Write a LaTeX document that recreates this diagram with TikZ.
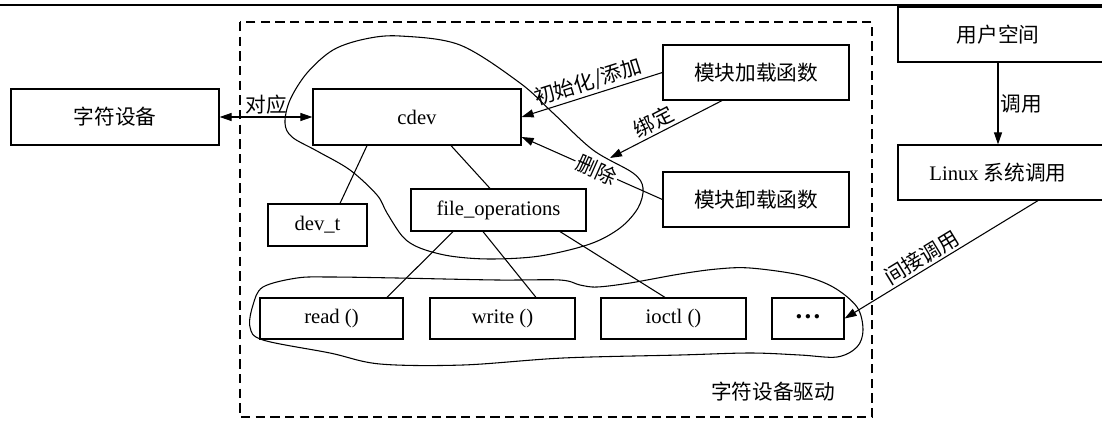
\documentclass[tikz,border=0pt]{standalone}
\usepackage{fontspec}
\setmainfont{Liberation Serif}
\newfontfamily\zh{Noto Sans CJK SC}
\usetikzlibrary{arrows.meta,calc}

\begin{document}
\begin{tikzpicture}[x=0.75pt,y=-0.75pt,>={Triangle[length=9pt,width=6pt]},
  every node/.style={font=\fontsize{15.5}{18}\selectfont},
  box/.style={draw,line width=0.9pt,rectangle,inner sep=0pt},
  link/.style={line width=0.8pt},
  lbl/.style={inner sep=1.5pt}]
\useasboundingbox (0,0) rectangle (1102,421);
\draw[line width=1.6pt] (0,5) -- (1102,5);
\draw[line width=1.3pt,dash pattern=on 7pt off 4pt] (240,22) rectangle (872,417);

% outer boxes
\node[box,minimum width=156pt,minimum height=42pt] (chardev) at (115,117) {\zh 字符设备};
\node[box,minimum width=159pt,minimum height=41.25pt] (user) at (1004,34.5) {\zh 用户空间\hspace*{9pt}};
\node[box,minimum width=159pt,minimum height=41.25pt] (syscall) at (1004,172.5) {Linux {\zh 系统调用}\hspace*{9pt}};

% driver parts
\node[box,minimum width=156pt,minimum height=42pt] (cdev) at (417,117) {cdev};
\node[box,minimum width=139.5pt,minimum height=41.25pt] (load) at (756,72.5) {\zh 模块加载函数};
\node[box,minimum width=139.5pt,minimum height=41.25pt] (unload) at (756,199.5) {\zh 模块卸载函数};
\node[box,minimum width=74.25pt,minimum height=31.5pt] (devt) at (317.5,225) {dev\_t};
\node[box,minimum width=131.25pt,minimum height=31.5pt] (fops) at (498.5,210) {file\_operations};
\node[box,minimum width=107.25pt,minimum height=30.75pt] (read) at (331.5,318.5) {read ()};
\node[box,minimum width=108.75pt,minimum height=30.75pt] (write) at (502.5,318.5) {write ()};
\node[box,minimum width=108.75pt,minimum height=30.75pt] (ioctl) at (673.5,318.5) {ioctl ()};
\node[box,minimum width=54pt,minimum height=30.75pt] (more) at (808,318.5) {\raisebox{3pt}{\fontsize{20}{20}\selectfont\bfseries …}};
\node (drv) at (773,392) {\zh 字符设备驱动};
\coordinate (bind) at (610,158);

% groups
\draw[link] plot[smooth cycle,tension=0.55] coordinates {(400,36) (460,45) (520,83) (553,113)
  (593,150) (633,173) (643,188) (638,208) (620,228) (590,244) (540,256) (490,259) (450,256)
  (420,248) (403,237) (387,213) (377,195) (350,170) (317,151) (292,137) (285,123) (290,100)
  (307,73) (333,50) (365,39)};
\draw[link] plot[smooth cycle,tension=0.55] coordinates {(263,287) (297,278) (330,277) (397,278)
  (497,280) (560,280) (580,285) (597,287) (630,283) (680,274) (717,269) (750,268) (800,275)
  (833,287) (857,307) (863,330) (857,347) (837,357) (800,355) (750,353) (680,355) (563,358)
  (463,365) (380,364) (330,353) (263,340) (250,327) (253,305)};

% connections
\draw[link] ($(cdev.south)+(-50,0)$) -- ($(devt.north)+(22.5,0)$);
\draw[link] ($(cdev.south)+(34,0)$) -- ($(fops.north)+(-8.5,0)$);
\draw[link] ($(fops.south)+(-45.5,0)$) -- ($(read.north)+(55.5,0)$);
\draw[link] ($(fops.south)+(-15.5,0)$) -- ($(write.north)+(33.5,0)$);
\draw[link] ($(fops.south)+(61.5,0)$) -- ($(ioctl.north)+(-8.5,0)$);

\draw[link,<->] (chardev) -- node[lbl,above] {\zh 对应} (cdev);
\draw[link,->] (load.west) -- node[lbl,sloped,above,pos=0.5] {\zh 初始化/添加} (cdev.east);
\draw[link,->] ($(load.south)+(-34,0)$) -- node[lbl,sloped,above,pos=0.56] {\zh 绑定} (bind);
\draw[link,->] (unload.west) -- node[lbl,sloped,fill=white,pos=0.47] {\zh 删除} ($(cdev.east)+(0,20)$);
\draw[link,->] ($(user.south)+(-6,0)$) -- node[lbl,right] {\zh 调用} ($(syscall.north)+(-6,0)$);
\draw[link,->] ($(syscall.south)+(34,0)$) -- node[lbl,sloped,above,pos=0.57] {\zh 间接调用} (more.east);
\end{tikzpicture}
\end{document}
